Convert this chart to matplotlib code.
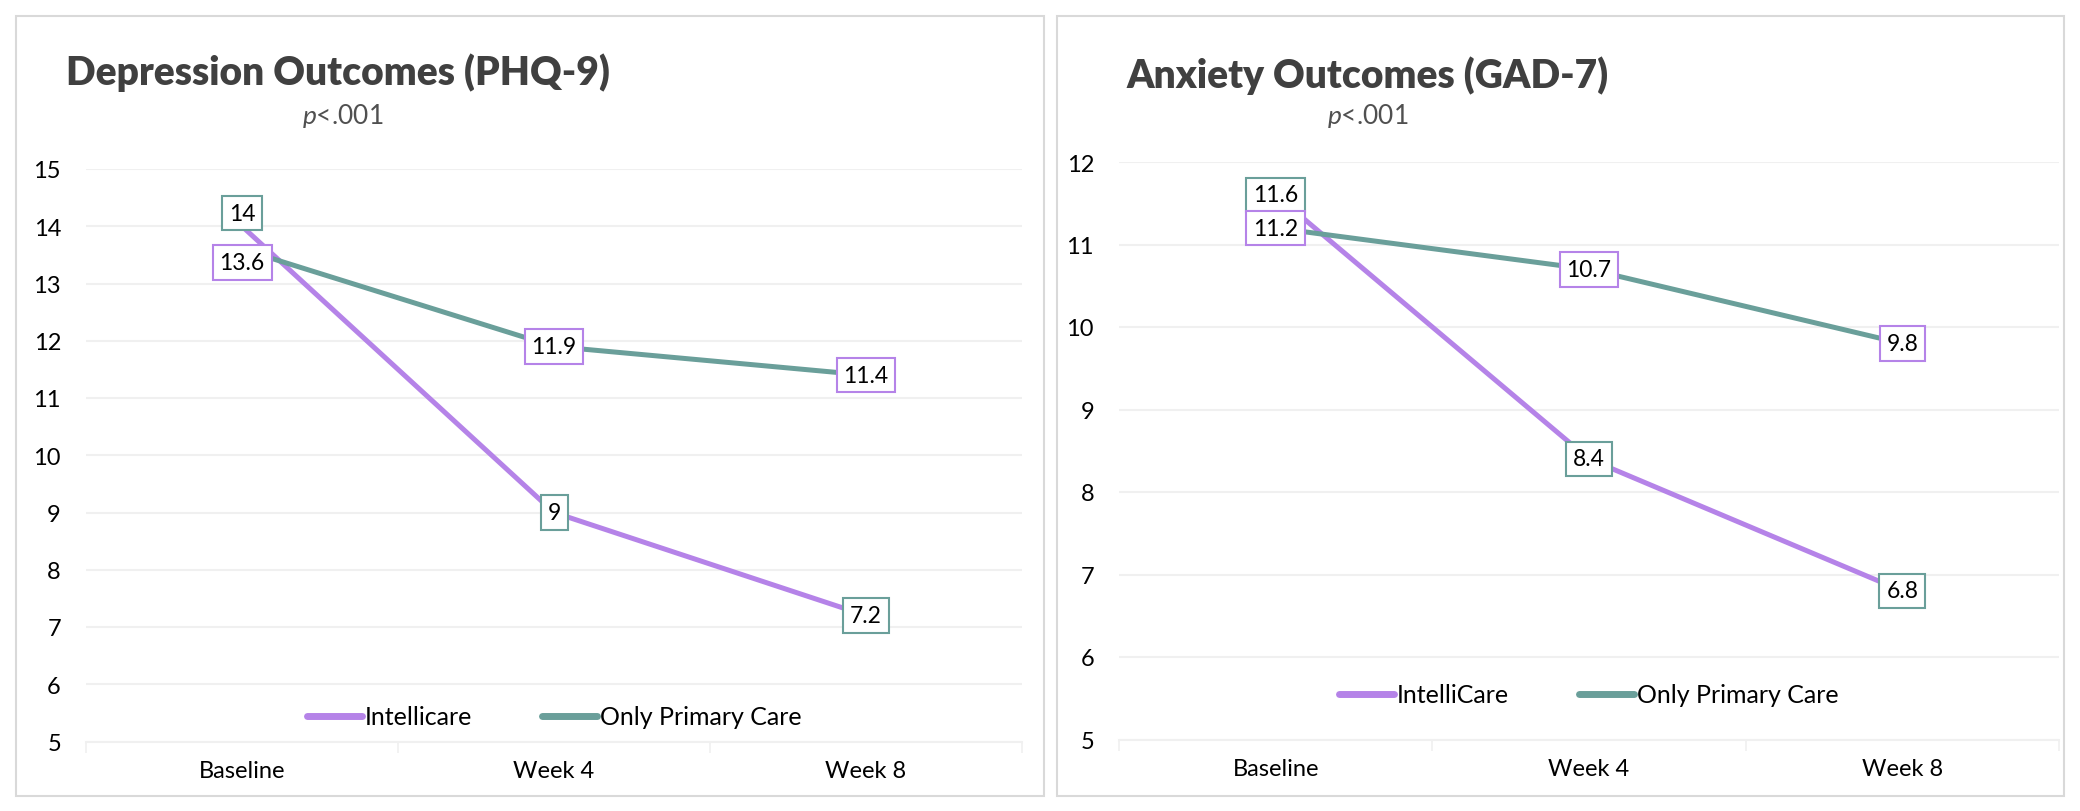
import matplotlib
matplotlib.use("Agg")
import matplotlib.pyplot as plt
from matplotlib.patches import Rectangle

# ---------------- data ----------------
categories = ["Baseline", "Week 4", "Week 8"]

dep_title = "Depression Outcomes (PHQ-9)"
dep_intellicare = [14, 9, 7.2]
dep_primary = [13.6, 11.9, 11.4]
dep_labels = ["Intellicare", "Only Primary Care"]
dep_yticks = [5, 6, 7, 8, 9, 10, 11, 12, 13, 14, 15]

anx_title = "Anxiety Outcomes (GAD-7)"
anx_intellicare = [11.6, 8.4, 6.8]
anx_primary = [11.2, 10.7, 9.8]
anx_labels = ["IntelliCare", "Only Primary Care"]
anx_yticks = [5, 6, 7, 8, 9, 10, 11, 12]

p_text = r"$\mathit{p}$<.001"

# ---------------- style ----------------
PURPLE = "#B583E8"
TEAL = "#6A9F9A"
GRID = "#F0F0F0"
BORDER = "#D9D9D9"
TITLE_C = "#404040"

plt.rcParams["font.family"] = ["Lato", "DejaVu Sans"]
plt.rcParams["mathtext.fontset"] = "custom"
plt.rcParams["mathtext.it"] = "Lato:italic"
plt.rcParams["mathtext.rm"] = "Lato"

W, H = 2080, 812
fig = plt.figure(figsize=(W / 100, H / 100), dpi=100)


def fx(px):
    return px / W


def fy(py):
    return 1 - py / H


# panel borders
for (x0, y0, x1, y1) in [(16, 17, 1044, 797), (1057, 17, 2064, 797)]:
    fig.patches.append(Rectangle((fx(x0), fy(y1)), fx(x1 - x0), (y1 - y0) / H,
                                 transform=fig.transFigure, fill=False,
                                 edgecolor=BORDER, linewidth=1.5, zorder=0))


def make_panel(rect, title, title_xy, p_xy, intel, prim, labels, yticks,
               legend_y, offsets):
    l, t, r, b = rect
    ax = fig.add_axes([fx(l), fy(b), fx(r - l), (b - t) / H])
    x = list(range(len(categories)))
    ax.plot(x, intel, color=PURPLE, lw=3.6, label=labels[0],
            solid_capstyle="round", zorder=3)
    ax.plot(x, prim, color=TEAL, lw=3.6, label=labels[1],
            solid_capstyle="round", zorder=3)
    ax.set_xlim(-0.5, len(categories) - 0.5)
    ax.set_ylim(yticks[0], yticks[-1])
    ax.set_yticks(yticks)
    ax.set_yticklabels([str(v) for v in yticks])
    ax.set_xticks(x)
    ax.set_xticklabels(categories)
    ax.set_xticks([-0.5, 0.5, 1.5, 2.5], minor=True)
    ax.tick_params(axis="y", length=0, pad=18, labelsize=17)
    ax.tick_params(axis="x", which="major", length=0, pad=13, labelsize=17)
    ax.tick_params(axis="x", which="minor", length=8, width=1.2, color=GRID)
    ax.grid(axis="y", color=GRID, lw=1.5)
    ax.set_axisbelow(True)
    for s in ["top", "right", "left"]:
        ax.spines[s].set_visible(False)
    ax.spines["bottom"].set_color(GRID)
    ax.spines["bottom"].set_linewidth(1.5)

    # data labels (border colours as in the reference)
    for i, v in enumerate(intel):
        ax.annotate(f"{v:g}", (x[i], v), xytext=(0, offsets[0][i]),
                    textcoords="offset points", ha="center", va="center",
                    fontsize=16.5, zorder=5,
                    bbox=dict(boxstyle="square,pad=0.3", fc="white",
                              ec=TEAL, lw=1.5))
    for i, v in enumerate(prim):
        ax.annotate(f"{v:g}", (x[i], v), xytext=(0, offsets[1][i]),
                    textcoords="offset points", ha="center", va="center",
                    fontsize=16.5, zorder=5,
                    bbox=dict(boxstyle="square,pad=0.3", fc="white",
                              ec=PURPLE, lw=1.5))

    leg = ax.legend(loc="center", bbox_to_anchor=(0.5, legend_y), ncol=2,
                    frameon=False, fontsize=18, handlelength=2.2,
                    handletextpad=0.12, columnspacing=2.8)
    for line in leg.get_lines():
        line.set_linewidth(5)
        line.set_solid_capstyle("round")

    fig.text(fx(title_xy[0]), fy(title_xy[1]), title, fontsize=28,
             fontweight="heavy", color=TITLE_C, ha="left", va="center")
    fig.text(fx(p_xy[0]), fy(p_xy[1]), p_text, fontsize=19,
             color="#505050", ha="center", va="center")
    return ax


make_panel((86, 170, 1022, 742.5), dep_title, (66, 73), (343, 116),
           dep_intellicare, dep_primary, dep_labels, dep_yticks,
           (742.5 - 718) / (742.5 - 170),
           offsets=([9.5, 0, 0], [-9.5, 0, 0]))

make_panel((1119, 163, 2059, 740.5), anx_title, (1127, 76), (1368, 116),
           anx_intellicare, anx_primary, anx_labels, anx_yticks,
           (740.5 - 696) / (740.5 - 163),
           offsets=([0, 0, 0], [0, 0, 0]))

fig.savefig("out.png", dpi=100, facecolor="white")
